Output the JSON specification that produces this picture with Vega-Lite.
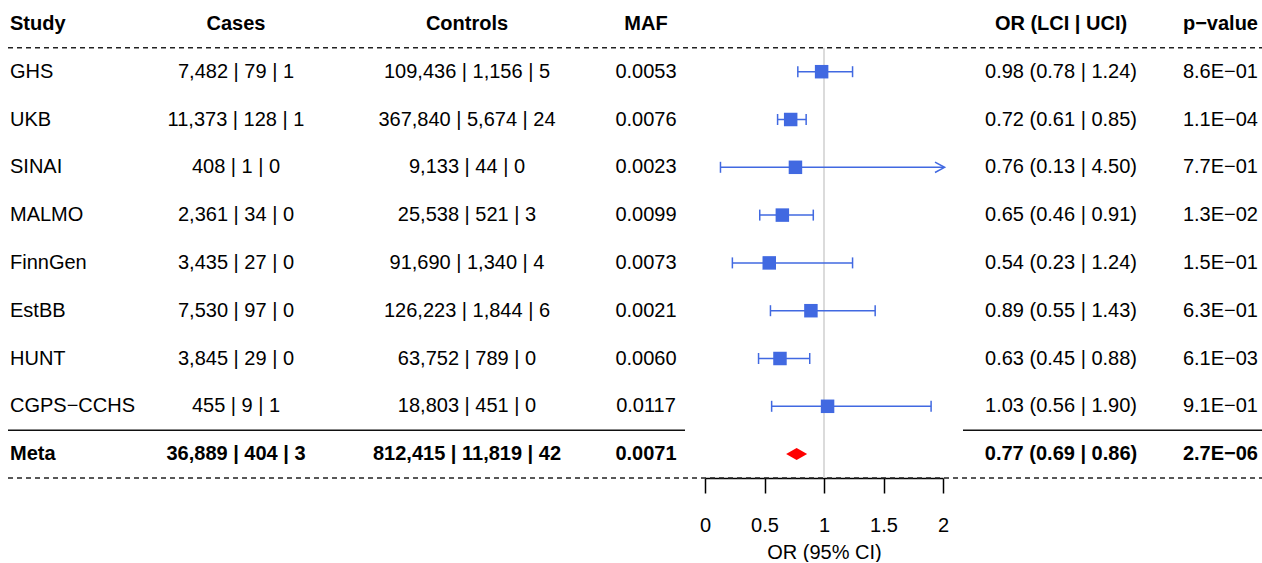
{
  "$schema": "https://vega.github.io/schema/vega-lite/v6.json",
  "width": 1262,
  "height": 478,
  "padding": 0,
  "autosize": {"type": "pad"},
  "background": "white",
  "config": {"view": {"stroke": null}, "font": "Liberation Sans"},
  "datasets": {
    "rows": [
      {"rank": 0, "study": "Study", "cases": "Cases", "controls": "Controls", "maf": "MAF", "orci": "OR (LCI | UCI)", "p": "p−value"},
      {"rank": 1, "study": "GHS", "cases": "7,482 | 79 | 1", "controls": "109,436 | 1,156 | 5", "maf": "0.0053", "orci": "0.98 (0.78 | 1.24)", "p": "8.6E−01", "or": 0.98, "lci": 0.78, "uci": 1.24},
      {"rank": 2, "study": "UKB", "cases": "11,373 | 128 | 1", "controls": "367,840 | 5,674 | 24", "maf": "0.0076", "orci": "0.72 (0.61 | 0.85)", "p": "1.1E−04", "or": 0.72, "lci": 0.61, "uci": 0.85},
      {"rank": 3, "study": "SINAI", "cases": "408 | 1 | 0", "controls": "9,133 | 44 | 0", "maf": "0.0023", "orci": "0.76 (0.13 | 4.50)", "p": "7.7E−01", "or": 0.76, "lci": 0.13, "uci": 4.5},
      {"rank": 4, "study": "MALMO", "cases": "2,361 | 34 | 0", "controls": "25,538 | 521 | 3", "maf": "0.0099", "orci": "0.65 (0.46 | 0.91)", "p": "1.3E−02", "or": 0.65, "lci": 0.46, "uci": 0.91},
      {"rank": 5, "study": "FinnGen", "cases": "3,435 | 27 | 0", "controls": "91,690 | 1,340 | 4", "maf": "0.0073", "orci": "0.54 (0.23 | 1.24)", "p": "1.5E−01", "or": 0.54, "lci": 0.23, "uci": 1.24},
      {"rank": 6, "study": "EstBB", "cases": "7,530 | 97 | 0", "controls": "126,223 | 1,844 | 6", "maf": "0.0021", "orci": "0.89 (0.55 | 1.43)", "p": "6.3E−01", "or": 0.89, "lci": 0.55, "uci": 1.43},
      {"rank": 7, "study": "HUNT", "cases": "3,845 | 29 | 0", "controls": "63,752 | 789 | 0", "maf": "0.0060", "orci": "0.63 (0.45 | 0.88)", "p": "6.1E−03", "or": 0.63, "lci": 0.45, "uci": 0.88},
      {"rank": 8, "study": "CGPS−CCHS", "cases": "455 | 9 | 1", "controls": "18,803 | 451 | 0", "maf": "0.0117", "orci": "1.03 (0.56 | 1.90)", "p": "9.1E−01", "or": 1.03, "lci": 0.56, "uci": 1.9},
      {"rank": 9, "study": "Meta", "cases": "36,889 | 404 | 3", "controls": "812,415 | 11,819 | 42", "maf": "0.0071", "orci": "0.77 (0.69 | 0.86)", "p": "2.7E−06", "or": 0.77, "lci": 0.69, "uci": 0.86}
    ],
    "cols": [
      {"key": "study", "col": 1},
      {"key": "cases", "col": 2},
      {"key": "controls", "col": 3},
      {"key": "maf", "col": 4},
      {"key": "orci", "col": 6},
      {"key": "p", "col": 7}
    ]
  },
  "data": {"name": "rows"},
  "encoding": {
    "y": {"field": "rank", "type": "quantitative", "scale": {"domain": [-0.5, 9.5], "reverse": true, "nice": false, "zero": false}, "axis": null}
  },
  "layer": [
    {
      "transform": [
        {"fold": ["study", "cases", "controls", "maf", "orci", "p"], "as": ["key", "label"]},
        {"lookup": "key", "from": {"data": {"name": "cols"}, "key": "key", "fields": ["col"]}}
      ],
      "encoding": {
        "x": {"field": "col", "type": "quantitative", "axis": null,
              "scale": {"domain": [0, 1, 2, 3, 4, 4.5, 5.5, 6, 7, 8], "range": [8, 10, 236, 467, 646, 685, 963, 1061, 1258, 1262], "zero": false, "nice": false}}
      },
      "layer": [
        {
          "transform": [{"filter": "datum.key === 'study' && datum.rank === 0"}],
          "mark": {"type": "rule", "stroke": "#222222", "strokeWidth": 1.5, "strokeDash": [5, 4]},
          "encoding": {"x": {"datum": 0, "type": "quantitative"}, "x2": {"datum": 8}, "y": {"datum": 0.5, "type": "quantitative"}}
        },
        {
          "transform": [{"filter": "datum.key === 'study' && datum.rank === 0"}],
          "mark": {"type": "rule", "stroke": "#222222", "strokeWidth": 1.5, "strokeDash": [5, 4]},
          "encoding": {"x": {"datum": 0, "type": "quantitative"}, "x2": {"datum": 8}, "y": {"datum": 9.5, "type": "quantitative"}}
        },
        {
          "transform": [{"filter": "datum.key === 'study' && datum.rank === 0"}],
          "mark": {"type": "rule", "stroke": "#111111", "strokeWidth": 1.5},
          "encoding": {"x": {"datum": 0, "type": "quantitative"}, "x2": {"datum": 4.5}, "y": {"datum": 8.5, "type": "quantitative"}}
        },
        {
          "transform": [{"filter": "datum.key === 'study' && datum.rank === 0"}],
          "mark": {"type": "rule", "stroke": "#111111", "strokeWidth": 1.5},
          "encoding": {"x": {"datum": 5.5, "type": "quantitative"}, "x2": {"datum": 8}, "y": {"datum": 8.5, "type": "quantitative"}}
        },
        {
          "transform": [{"filter": "datum.key === 'study' && datum.rank > 0 && datum.rank < 9"}],
          "mark": {"type": "text", "align": "left", "baseline": "middle", "fontSize": 20, "fontWeight": "normal", "color": "black"},
          "encoding": {"text": {"field": "label"}}
        },
        {
          "transform": [{"filter": "datum.key === 'study' && (datum.rank === 0 || datum.rank === 9)"}],
          "mark": {"type": "text", "align": "left", "baseline": "middle", "fontSize": 20, "fontWeight": "bold", "color": "black"},
          "encoding": {"text": {"field": "label"}}
        },
        {
          "transform": [{"filter": "datum.key === 'p' && datum.rank > 0 && datum.rank < 9"}],
          "mark": {"type": "text", "align": "right", "baseline": "middle", "fontSize": 20, "fontWeight": "normal", "color": "black"},
          "encoding": {"text": {"field": "label"}}
        },
        {
          "transform": [{"filter": "datum.key === 'p' && (datum.rank === 0 || datum.rank === 9)"}],
          "mark": {"type": "text", "align": "right", "baseline": "middle", "fontSize": 20, "fontWeight": "bold", "color": "black"},
          "encoding": {"text": {"field": "label"}}
        },
        {
          "transform": [{"filter": "datum.key !== 'p' && datum.key !== 'study' && datum.rank > 0 && datum.rank < 9"}],
          "mark": {"type": "text", "align": "center", "baseline": "middle", "fontSize": 20, "fontWeight": "normal", "color": "black"},
          "encoding": {"text": {"field": "label"}}
        },
        {
          "transform": [{"filter": "datum.key !== 'p' && datum.key !== 'study' && (datum.rank === 0 || datum.rank === 9)"}],
          "mark": {"type": "text", "align": "center", "baseline": "middle", "fontSize": 20, "fontWeight": "bold", "color": "black"},
          "encoding": {"text": {"field": "label"}}
        }
      ]
    },
    {
      "transform": [{"filter": "datum.rank >= 1"}],
      "encoding": {
        "x": {"field": "or", "type": "quantitative",
              "scale": {"domain": [0, 2], "range": [705, 943], "clamp": true, "zero": false, "nice": false},
              "axis": {"orient": "bottom", "values": [0, 0.5, 1, 1.5, 2], "format": "~g", "grid": false,
                       "domainColor": "black", "domainWidth": 1.5, "tickColor": "black", "tickWidth": 1.5, "tickSize": 15,
                       "labelFontSize": 20, "labelColor": "black", "labelPadding": 22, "labelFlush": false, "labelOverlap": false,
                       "title": "OR (95% CI)", "titleFontSize": 20, "titleFontWeight": "normal", "titleColor": "black", "titlePadding": 7}}
      },
      "layer": [
        {
          "transform": [{"filter": "datum.rank === 9"}],
          "mark": {"type": "rule", "stroke": "#CFCFCF", "strokeWidth": 1.5},
          "encoding": {"x": {"datum": 1, "type": "quantitative"}, "y": {"datum": 0.5, "type": "quantitative"}, "y2": {"datum": 9.5}}
        },
        {
          "transform": [{"filter": "datum.rank <= 8"}],
          "mark": {"type": "rule", "stroke": "#4169E1", "strokeWidth": 1.5},
          "encoding": {"x": {"field": "lci", "type": "quantitative"}, "x2": {"field": "uci"}}
        },
        {
          "transform": [{"filter": "datum.rank <= 8"}],
          "mark": {"type": "point", "shape": "M0,-1L0,1", "filled": false, "stroke": "#4169E1", "strokeWidth": 1.5, "size": 121, "opacity": 1},
          "encoding": {"x": {"field": "lci", "type": "quantitative"}}
        },
        {
          "transform": [{"filter": "datum.rank <= 8 && datum.uci <= 2"}],
          "mark": {"type": "point", "shape": "M0,-1L0,1", "filled": false, "stroke": "#4169E1", "strokeWidth": 1.5, "size": 121, "opacity": 1},
          "encoding": {"x": {"field": "uci", "type": "quantitative"}}
        },
        {
          "transform": [{"filter": "datum.rank <= 8 && datum.uci > 2"}],
          "mark": {"type": "point", "shape": "M-1,-0.65L0.2,0L-1,0.65", "filled": false, "stroke": "#4169E1", "strokeWidth": 1.5, "size": 256, "opacity": 1},
          "encoding": {"x": {"field": "uci", "type": "quantitative"}}
        },
        {
          "transform": [{"filter": "datum.rank <= 8"}],
          "mark": {"type": "square", "size": 182, "filled": true, "color": "#4169E1", "opacity": 1}
        },
        {
          "transform": [{"filter": "datum.rank === 9"}],
          "mark": {"type": "point", "shape": "M-1,0L0,-0.57L1,0L0,0.57Z", "filled": true, "color": "#FF0000", "size": 441, "opacity": 1, "strokeWidth": 0}
        }
      ]
    }
  ],
  "resolve": {"scale": {"x": "independent"}}
}
